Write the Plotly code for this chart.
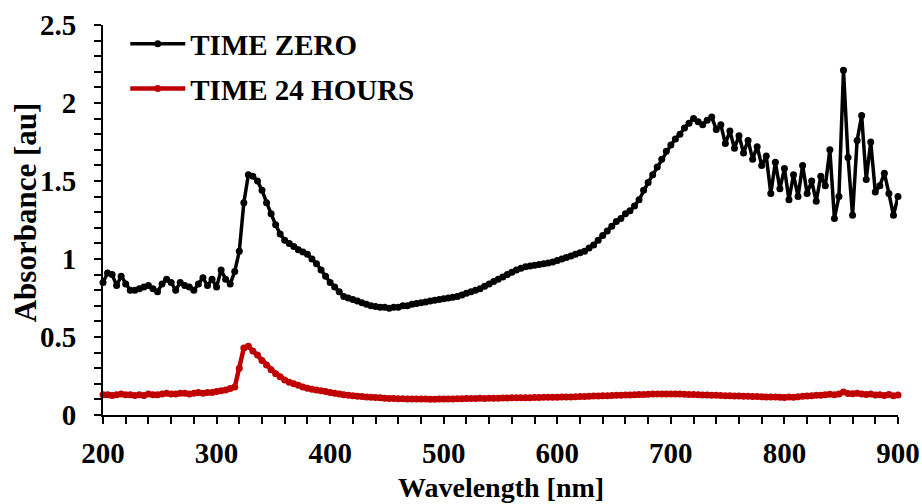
import plotly.graph_objects as go

wavelength = list(range(200, 901, 4))

time_zero = [
    0.85, 0.91, 0.90, 0.83, 0.89, 0.84, 0.80, 0.80, 0.81, 0.82,
    0.83, 0.81, 0.79, 0.84, 0.87, 0.85, 0.80, 0.85, 0.83, 0.82,
    0.80, 0.84, 0.88, 0.83, 0.87, 0.82, 0.93, 0.87, 0.84, 0.92,
    1.05, 1.36, 1.54, 1.53, 1.50, 1.44, 1.36, 1.29, 1.22, 1.16,
    1.12, 1.10, 1.08, 1.06, 1.045, 1.03, 1.00, 0.97, 0.93, 0.89,
    0.85, 0.82, 0.79, 0.76, 0.75, 0.74, 0.73, 0.72, 0.71, 0.70,
    0.695, 0.69, 0.69, 0.685, 0.69, 0.69, 0.70, 0.70, 0.71, 0.715,
    0.72, 0.725, 0.73, 0.735, 0.74, 0.745, 0.75, 0.755, 0.76, 0.77,
    0.78, 0.79, 0.80, 0.81, 0.825, 0.84, 0.855, 0.87, 0.885, 0.90,
    0.915, 0.93, 0.94, 0.95, 0.955, 0.96, 0.965, 0.97, 0.975, 0.98,
    0.99, 1.00, 1.01, 1.02, 1.03, 1.04, 1.05, 1.07, 1.09, 1.12,
    1.15, 1.18, 1.21, 1.24, 1.26, 1.29, 1.31, 1.34, 1.38, 1.44,
    1.49, 1.54, 1.59, 1.64, 1.69, 1.73, 1.77, 1.80, 1.84, 1.87,
    1.90, 1.88, 1.86, 1.89, 1.91,
    1.83, 1.86, 1.74, 1.82, 1.71, 1.79, 1.68, 1.76, 1.64, 1.72,
    1.60, 1.66, 1.42, 1.62, 1.45, 1.58, 1.38, 1.54, 1.40, 1.60,
    1.42, 1.50, 1.37, 1.53, 1.47, 1.70, 1.26, 1.40, 2.21, 1.65,
    1.28, 1.76, 1.92, 1.51, 1.75, 1.43, 1.47, 1.55, 1.42, 1.28,
    1.40,
]

time_24h = [
    0.13, 0.13, 0.125, 0.13, 0.135, 0.13, 0.13, 0.125, 0.13, 0.125,
    0.135, 0.13, 0.13, 0.135, 0.14, 0.135, 0.135, 0.14, 0.14, 0.135,
    0.14, 0.145, 0.14, 0.145, 0.145, 0.15, 0.155, 0.16, 0.17, 0.18,
    0.30, 0.43, 0.44, 0.41, 0.385, 0.35, 0.32, 0.29, 0.265, 0.245,
    0.225, 0.21, 0.20, 0.19, 0.18, 0.172, 0.165, 0.16, 0.155, 0.15,
    0.145, 0.14, 0.135, 0.13, 0.127, 0.124, 0.12, 0.118, 0.116, 0.114,
    0.112, 0.11, 0.108, 0.106, 0.105, 0.104, 0.104, 0.103, 0.103, 0.102,
    0.102, 0.102, 0.101, 0.101, 0.102, 0.102, 0.103, 0.103, 0.104, 0.104,
    0.105, 0.105, 0.106, 0.108, 0.106, 0.107, 0.108, 0.108, 0.109, 0.109,
    0.11, 0.11, 0.11, 0.111, 0.111, 0.112, 0.112, 0.113, 0.113, 0.114,
    0.114, 0.115, 0.115, 0.116, 0.117, 0.118, 0.119, 0.12, 0.121, 0.122,
    0.123, 0.124, 0.125, 0.126, 0.127, 0.128, 0.129, 0.13, 0.131, 0.132,
    0.133, 0.134, 0.135, 0.134, 0.135, 0.135, 0.134, 0.134, 0.133, 0.132,
    0.131, 0.13, 0.129, 0.128, 0.127,
    0.126, 0.125, 0.124, 0.123, 0.122, 0.121, 0.12, 0.12, 0.119, 0.118,
    0.117, 0.116, 0.115, 0.115, 0.114, 0.112, 0.115, 0.114, 0.117, 0.12,
    0.122, 0.124, 0.126, 0.127, 0.13, 0.133, 0.13, 0.135, 0.148, 0.138,
    0.136, 0.14, 0.135, 0.132, 0.135, 0.128, 0.13, 0.125, 0.132, 0.124,
    0.128,
]

series_names = ["TIME ZERO", "TIME 24 HOURS"]
series_colors = ["#000000", "#C00000"]
line_widths = [3.5, 4.5]
marker_sizes = [7, 7]

FONT = "Liberation Serif"

fig = go.Figure()
for name, ys, col, lw, ms, grp in zip(series_names, [time_zero, time_24h], series_colors,
                                       line_widths, marker_sizes, ["a", "b"]):
    fig.add_trace(go.Scatter(
        x=wavelength, y=ys, name=name, mode="lines+markers",
        line=dict(color=col, width=lw),
        marker=dict(color=col, size=ms, symbol="circle"),
        legendgroup=grp, cliponaxis=False,
    ))

axis_common = dict(
    showgrid=False, zeroline=False, showline=True, linecolor="black", linewidth=2,
    ticks="outside", ticklen=7, tickwidth=2, tickcolor="black", automargin=False,
    tickfont=dict(family=FONT, size=29, color="black", weight="bold"),
)

fig.update_xaxes(
    range=[200, 900], tickvals=[200, 300, 400, 500, 600, 700, 800, 900],
    minor=dict(dtick=20, ticks="outside", ticklen=7, tickwidth=2, tickcolor="black", showgrid=False),
    ticklabelstandoff=4,
    **axis_common,
)
fig.update_yaxes(
    range=[0, 2.5], tickvals=[0, 0.5, 1, 1.5, 2, 2.5], ticktext=["0", "0.5", "1", "1.5", "2", "2.5"],
    minor=dict(dtick=0.1, ticks="outside", ticklen=7, tickwidth=2, tickcolor="black", showgrid=False),
    ticklabelstandoff=12,
    **axis_common,
)

fig.update_layout(
    width=922, height=504,
    margin=dict(l=103, r=24, t=25, b=89),
    plot_bgcolor="white", paper_bgcolor="white",
    font=dict(family=FONT, color="black"),
    showlegend=True,
    legend=dict(
        x=0.028, y=1.017, xanchor="left", yanchor="top",
        font=dict(family=FONT, size=29, color="black", weight="bold"),
        itemwidth=55, tracegroupgap=4, bgcolor="rgba(0,0,0,0)",
    ),
    annotations=[
        dict(text="<b>Wavelength [nm]</b>", xref="paper", yref="paper", x=0.5, y=-0.185,
             xanchor="center", yanchor="middle", showarrow=False,
             font=dict(family=FONT, size=28, color="black")),
        dict(text="<b>Absorbance [au]</b>", xref="paper", yref="paper", x=-0.098, y=0.52,
             xanchor="center", yanchor="middle", showarrow=False, textangle=-90,
             font=dict(family=FONT, size=31, color="black")),
    ],
)

fig.write_html("out.html")
